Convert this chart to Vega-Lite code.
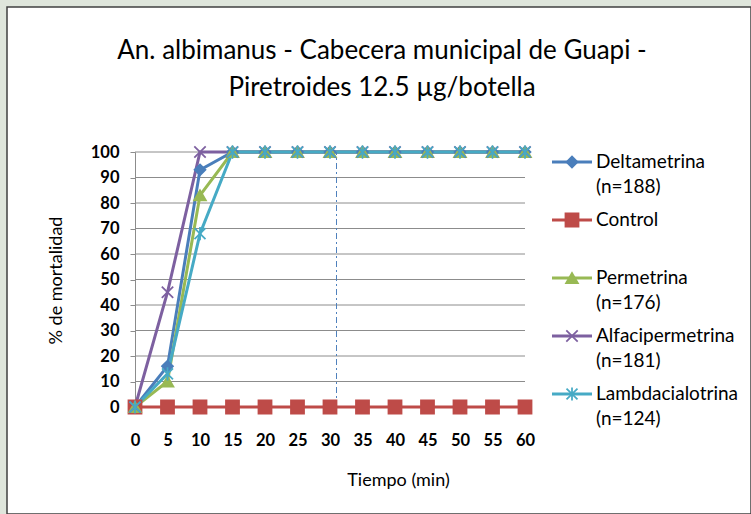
{
  "$schema": "https://vega.github.io/schema/vega-lite/v6.json",
  "width": 744,
  "height": 507,
  "autosize": {"type": "none"},
  "padding": {"left": 7, "top": 7, "right": 0, "bottom": 0},
  "background": "#dfe6dc",
  "config": {
    "view": {"fill": "white", "stroke": "#404040", "strokeWidth": 1.5},
    "font": "Lato"
  },
  "title": {
    "text": ["An. albimanus - Cabecera municipal de Guapi -", "Piretroides 12.5 µg/botella"],
    "font": "Lato",
    "fontSize": 26,
    "fontWeight": "normal",
    "color": "black",
    "anchor": "middle",
    "frame": "group",
    "lineHeight": 37,
    "offset": -94,
    "dx": 3
  },
  "datasets": {
    "series": [
      {"serie": "Deltametrina", "t": 0, "v": 0}, {"serie": "Deltametrina", "t": 5, "v": 16}, {"serie": "Deltametrina", "t": 10, "v": 93}, {"serie": "Deltametrina", "t": 15, "v": 100}, {"serie": "Deltametrina", "t": 20, "v": 100}, {"serie": "Deltametrina", "t": 25, "v": 100}, {"serie": "Deltametrina", "t": 30, "v": 100}, {"serie": "Deltametrina", "t": 35, "v": 100}, {"serie": "Deltametrina", "t": 40, "v": 100}, {"serie": "Deltametrina", "t": 45, "v": 100}, {"serie": "Deltametrina", "t": 50, "v": 100}, {"serie": "Deltametrina", "t": 55, "v": 100}, {"serie": "Deltametrina", "t": 60, "v": 100},
      {"serie": "Control", "t": 0, "v": 0}, {"serie": "Control", "t": 5, "v": 0}, {"serie": "Control", "t": 10, "v": 0}, {"serie": "Control", "t": 15, "v": 0}, {"serie": "Control", "t": 20, "v": 0}, {"serie": "Control", "t": 25, "v": 0}, {"serie": "Control", "t": 30, "v": 0}, {"serie": "Control", "t": 35, "v": 0}, {"serie": "Control", "t": 40, "v": 0}, {"serie": "Control", "t": 45, "v": 0}, {"serie": "Control", "t": 50, "v": 0}, {"serie": "Control", "t": 55, "v": 0}, {"serie": "Control", "t": 60, "v": 0},
      {"serie": "Permetrina", "t": 0, "v": 0}, {"serie": "Permetrina", "t": 5, "v": 10}, {"serie": "Permetrina", "t": 10, "v": 83}, {"serie": "Permetrina", "t": 15, "v": 100}, {"serie": "Permetrina", "t": 20, "v": 100}, {"serie": "Permetrina", "t": 25, "v": 100}, {"serie": "Permetrina", "t": 30, "v": 100}, {"serie": "Permetrina", "t": 35, "v": 100}, {"serie": "Permetrina", "t": 40, "v": 100}, {"serie": "Permetrina", "t": 45, "v": 100}, {"serie": "Permetrina", "t": 50, "v": 100}, {"serie": "Permetrina", "t": 55, "v": 100}, {"serie": "Permetrina", "t": 60, "v": 100},
      {"serie": "Alfacipermetrina", "t": 0, "v": 0}, {"serie": "Alfacipermetrina", "t": 5, "v": 45}, {"serie": "Alfacipermetrina", "t": 10, "v": 100}, {"serie": "Alfacipermetrina", "t": 15, "v": 100}, {"serie": "Alfacipermetrina", "t": 20, "v": 100}, {"serie": "Alfacipermetrina", "t": 25, "v": 100}, {"serie": "Alfacipermetrina", "t": 30, "v": 100}, {"serie": "Alfacipermetrina", "t": 35, "v": 100}, {"serie": "Alfacipermetrina", "t": 40, "v": 100}, {"serie": "Alfacipermetrina", "t": 45, "v": 100}, {"serie": "Alfacipermetrina", "t": 50, "v": 100}, {"serie": "Alfacipermetrina", "t": 55, "v": 100}, {"serie": "Alfacipermetrina", "t": 60, "v": 100},
      {"serie": "Lambdacialotrina", "t": 0, "v": 0}, {"serie": "Lambdacialotrina", "t": 5, "v": 13}, {"serie": "Lambdacialotrina", "t": 10, "v": 68}, {"serie": "Lambdacialotrina", "t": 15, "v": 100}, {"serie": "Lambdacialotrina", "t": 20, "v": 100}, {"serie": "Lambdacialotrina", "t": 25, "v": 100}, {"serie": "Lambdacialotrina", "t": 30, "v": 100}, {"serie": "Lambdacialotrina", "t": 35, "v": 100}, {"serie": "Lambdacialotrina", "t": 40, "v": 100}, {"serie": "Lambdacialotrina", "t": 45, "v": 100}, {"serie": "Lambdacialotrina", "t": 50, "v": 100}, {"serie": "Lambdacialotrina", "t": 55, "v": 100}, {"serie": "Lambdacialotrina", "t": 60, "v": 100}
    ],
    "ref": [{"t": 31, "v": 0, "hi": 100}],
    "grid": [{"t": 0, "t2": 60, "v": 10}, {"t": 0, "t2": 60, "v": 20}, {"t": 0, "t2": 60, "v": 30}, {"t": 0, "t2": 60, "v": 40}, {"t": 0, "t2": 60, "v": 50}, {"t": 0, "t2": 60, "v": 60}, {"t": 0, "t2": 60, "v": 70}, {"t": 0, "t2": 60, "v": 80}, {"t": 0, "t2": 60, "v": 90}, {"t": 0, "t2": 60, "v": 100}],
    "legend": [
      {"serie": "Deltametrina", "row": 0, "label": ["Deltametrina", "(n=188)"]},
      {"serie": "Control", "row": 1, "label": ["Control", ""]},
      {"serie": "Permetrina", "row": 2, "label": ["Permetrina", "(n=176)"]},
      {"serie": "Alfacipermetrina", "row": 3, "label": ["Alfacipermetrina", "(n=181)"]},
      {"serie": "Lambdacialotrina", "row": 4, "label": ["Lambdacialotrina", "(n=124)"]}
    ]
  },
  "layer": [
    {
      "layer": [
        {
          "data": {"name": "grid"},
          "mark": {"type": "rule", "color": "#8c8c8c", "strokeWidth": 1},
          "encoding": {
            "x": {"field": "t", "type": "quantitative", "title": "Tiempo (min)"},
            "x2": {"field": "t2"},
            "y": {"field": "v", "type": "quantitative", "title": "% de mortalidad"}
          }
        },
        {
          "data": {"name": "series"},
          "mark": {"type": "line", "strokeWidth": 3},
          "encoding": {
            "x": {
              "field": "t", "type": "quantitative", "title": "Tiempo (min)",
              "scale": {"domain": [0, 60], "range": [128, 518], "nice": false, "zero": false},
              "axis": {
                "values": [0, 5, 10, 15, 20, 25, 30, 35, 40, 45, 50, 55, 60],
                "offset": -107, "ticks": false, "grid": false,
                "labelPadding": 25, "labelFontSize": 16.5, "labelFont": "Lato", "labelFontWeight": "bold", "labelColor": "black",
                "labelFlush": false, "labelOverlap": false,
                "domainColor": "#8c8c8c", "domainWidth": 1,
                "titleFontSize": 18, "titleFontWeight": "normal", "titleColor": "black",
                "titleX": 391, "titleY": 73, "titleAlign": "center", "titleBaseline": "middle"
              }
            },
            "y": {
              "field": "v", "type": "quantitative", "title": "% de mortalidad",
              "scale": {"domain": [0, 100], "range": [400, 145], "nice": false},
              "axis": {
                "values": [0, 10, 20, 30, 40, 50, 60, 70, 80, 90, 100],
                "offset": -128, "tickSize": 5, "tickColor": "#8c8c8c", "grid": false,
                "labelPadding": 11, "labelFontSize": 16.5, "labelFont": "Lato", "labelFontWeight": "bold", "labelColor": "black",
                "labelFlush": false, "labelOverlap": false,
                "domainColor": "#8c8c8c", "domainWidth": 1,
                "titleFontSize": 18, "titleFontWeight": "normal", "titleColor": "black",
                "titleX": -79, "titleY": 273, "titleAlign": "center", "titleBaseline": "middle", "titleAngle": -90
              }
            },
            "color": {
              "field": "serie", "type": "nominal",
              "scale": {"domain": ["Deltametrina", "Control", "Permetrina", "Alfacipermetrina", "Lambdacialotrina"], "range": ["#4a7ebb", "#be4b48", "#98b954", "#7d60a0", "#46aac5"]},
              "legend": null
            },
            "order": {"field": "t"}
          }
        },
        {
          "data": {"name": "ref"},
          "mark": {"type": "rule", "color": "#4f81bd", "strokeWidth": 1, "strokeDash": [6, 3, 2, 3]},
          "encoding": {
            "x": {"field": "t", "type": "quantitative", "title": "Tiempo (min)"},
            "y": {"field": "v", "type": "quantitative", "title": "% de mortalidad"},
            "y2": {"field": "hi"}
          }
        },
        {
          "data": {"name": "series"},
          "mark": {"type": "point", "filled": true, "strokeWidth": 1.75, "opacity": 1},
          "encoding": {
            "x": {"field": "t", "type": "quantitative", "title": "Tiempo (min)"},
            "y": {"field": "v", "type": "quantitative", "title": "% de mortalidad"},
            "color": {"field": "serie", "type": "nominal", "legend": null},
            "stroke": {
              "field": "serie", "type": "nominal",
              "scale": {"domain": ["Deltametrina", "Control", "Permetrina", "Alfacipermetrina", "Lambdacialotrina"], "range": ["#4a7ebb", "#be4b48", "#98b954", "#7d60a0", "#46aac5"]},
              "legend": null
            },
            "shape": {
              "field": "serie", "type": "nominal",
              "scale": {"domain": ["Deltametrina", "Control", "Permetrina", "Alfacipermetrina", "Lambdacialotrina"], "range": ["diamond", "square", "triangle-up", "M-1,-1L1,1M-1,1L1,-1", "M-1,-1L1,1M-1,1L1,-1M0,-1.2L0,1.2"]},
              "legend": null
            },
            "size": {
              "field": "serie", "type": "nominal",
              "scale": {"type": "ordinal", "domain": ["Deltametrina", "Control", "Permetrina", "Alfacipermetrina", "Lambdacialotrina"], "range": [120, 170, 140, 130, 120]},
              "legend": null
            }
          }
        }
      ]
    },
    {
      "data": {"name": "legend"},
      "layer": [
        {
          "mark": {"type": "rule", "strokeWidth": 3},
          "encoding": {
            "x": {"datum": 0, "type": "quantitative", "scale": {"domain": [0, 1], "range": [545, 585], "nice": false, "zero": false}, "axis": null},
            "x2": {"datum": 1},
            "y": {"field": "row", "type": "quantitative", "scale": {"domain": [0, 4], "range": [155, 387], "nice": false, "zero": false}, "axis": null},
            "color": {
              "field": "serie", "type": "nominal",
              "scale": {"domain": ["Deltametrina", "Control", "Permetrina", "Alfacipermetrina", "Lambdacialotrina"], "range": ["#4a7ebb", "#be4b48", "#98b954", "#7d60a0", "#46aac5"]},
              "legend": null
            }
          }
        },
        {
          "mark": {"type": "point", "filled": true, "strokeWidth": 1.75, "opacity": 1},
          "encoding": {
            "x": {"datum": 0.5, "type": "quantitative", "axis": null},
            "y": {"field": "row", "type": "quantitative", "axis": null},
            "color": {"field": "serie", "type": "nominal", "legend": null},
            "stroke": {
              "field": "serie", "type": "nominal",
              "scale": {"domain": ["Deltametrina", "Control", "Permetrina", "Alfacipermetrina", "Lambdacialotrina"], "range": ["#4a7ebb", "#be4b48", "#98b954", "#7d60a0", "#46aac5"]},
              "legend": null
            },
            "shape": {
              "field": "serie", "type": "nominal",
              "scale": {"domain": ["Deltametrina", "Control", "Permetrina", "Alfacipermetrina", "Lambdacialotrina"], "range": ["diamond", "square", "triangle-up", "M-1,-1L1,1M-1,1L1,-1", "M-1,-1L1,1M-1,1L1,-1M0,-1.2L0,1.2"]},
              "legend": null
            },
            "size": {
              "field": "serie", "type": "nominal",
              "scale": {"type": "ordinal", "domain": ["Deltametrina", "Control", "Permetrina", "Alfacipermetrina", "Lambdacialotrina"], "range": [120, 170, 140, 130, 120]},
              "legend": null
            }
          }
        },
        {
          "mark": {"type": "text", "align": "left", "baseline": "middle", "dx": 4, "fontSize": 19, "lineHeight": 25, "font": "Lato", "color": "black"},
          "encoding": {
            "x": {"datum": 1, "type": "quantitative", "axis": null},
            "y": {"field": "row", "type": "quantitative", "axis": null},
            "text": {"field": "label", "type": "nominal"}
          }
        }
      ]
    }
  ],
  "resolve": {"scale": {"x": "independent", "y": "independent"}}
}
